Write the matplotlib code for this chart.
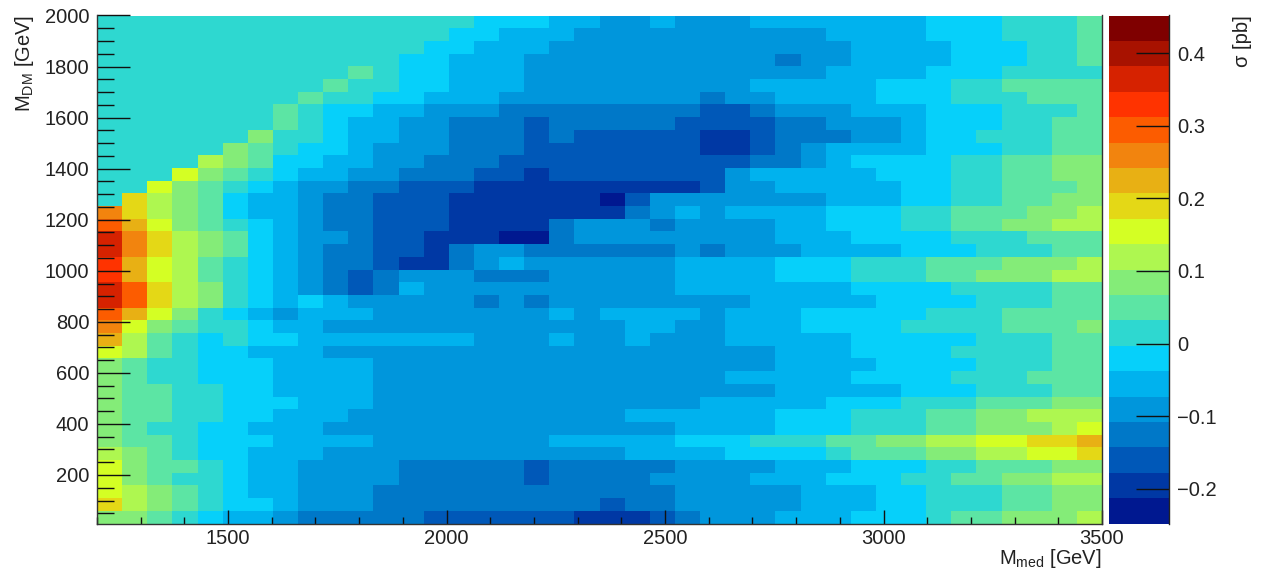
#!/usr/bin/env python3
# sigma map in the (M_med, M_DM) plane
import numpy as np
import matplotlib
matplotlib.use('Agg')
import matplotlib.pyplot as plt
from matplotlib.colors import ListedColormap, BoundaryNorm
from matplotlib.ticker import MultipleLocator

plt.rcParams['font.family'] = ['Liberation Sans', 'DejaVu Sans']
plt.rcParams['mathtext.fontset'] = 'custom'
plt.rcParams['mathtext.rm'] = 'Liberation Sans'
plt.rcParams['mathtext.default'] = 'rm'

# bin edges
mmed_edges = np.linspace(1200, 3500, 41)
mdm_edges = np.linspace(10, 2000, 41)

# z axis bands, one colour for each
band_edges = np.linspace(-0.248, 0.452, 21)
band_colors = ['#001890', '#0038a4', '#0058b8', '#0078c8', '#0096dc',
               '#00b2ee', '#06d0fa', '#2ed8d0', '#5ce5a4', '#84ec78',
               '#aef750', '#d4ff24', '#e4d816', '#e8b014', '#f2840e',
               '#fc5c00', '#ff3300', '#d62200', '#a81200', '#7f0000']

# band read off each cell, base 20 digit, top row (M_DM = 2000) first
# spaces only group equal neighbours
band_rows = [
    '777777777777777 666 55 44 5 444 5555555 666 777 8',
    '77777777777777 66 555 4444444444 5555 666 777 8',
    '7777777777777 66 555 444444444444 5555 666 77 8',
    '777777777777 66 555 4444444444 3 44 5555 666 77 8',
    '7777777777 8 7 66 555 444444444444 5555 666 7777',
    '777777777 8 77 66 555 444444444 55555 666 77 8888',
    '77777777 8 77 66 555 44444444 3 44 5555 666 777 888',
    '7777777 8 7 66 55 444 33333333 22 3 444 555 666 777 8',
    '7777777 8 7 6 55 44 333 2 33333 2222 33 444 5 666 77 88',
    '777777 9 77 6 55 44 333 2 3 22222 11 2 333 44 5 66 777 88',
    '77777 9 8 7 66 5 444 333 2222222 11 2 3 4 5555 666 77 88',
    '7777 a 9 8 66 55 44 333 2222222222 33 4 5 6666 77 88 99',
    '777 b 9 8 7 6 55 44 333 22 1 2222222 4 55555 666 77 88 99',
    '77 b 9 8 7 6 5 44 33 222 111111111 2 44 55555 66 77 888 9',
    '7 c a 9 8 6 55 4 33 222 111111 0 2 4444444 555 66 77 88 99',
    'e c a 9 8 6 55 4 33 222 1111111 3 4 5 4 5555 666 77 888 99 a',
    'f d b 9 8 7 6 5 4 33 222 1111 3 444 3 4444 55 666 77 88 99 aa',
    'h e c a 9 8 6 5 4 4 3 22 111 00 3 44444444 55 5 6666 777 888',
    'h e c a 9 8 6 5 4 33 22 1 3 44 333333 4 3 444 5555 666 777 88',
    'g d b a 8 7 6 5 4 33 2 11 3 4 5 444444 5555 666 777 888 999 a',
    'g d b a 8 7 6 5 4 3 2 3 444 333 44444 5555 666 777 88 999 aa',
    'h f c a 9 7 6 5 4 3 2 3 5 4444444444 5555555 6666 7777 88',
    'h f c a 9 7 6 5 6 5 44444 3 4 3 44444444 55555 6666 777 88',
    'f d b 9 7 6 5 4 555 4444444 5 4 5555 4 555 66666 777 8888',
    'e b 9 8 7 7 6 5 5 444444444444 55 44 555 6666 7777 888 9',
    'd a 8 7 6 7 6 6 5555555 444 5 44 5 444 55555 66666 777 88',
    'b a 8 7 6 6 555 444444444444444444 555 6666 7777 88',
    '9 8 7 7 6 6 6 5555 4444444444444444 5555 6666 777 88',
    '9 8 7 7 6 6 6 5555 44444444444444 55555 6666 777 888',
    '9 8 8 7 7 6 6 5555 4444444444444444 55555 666 777 88',
    '9 8 8 7 7 6 6 6 555 4444444444444 55555 666 777 888 99',
    '9 8 8 7 7 6 6 555 44444444444 555555 666 777 88 99 aaa',
    '9 8 7 7 6 6 555 44444444444444 5555 666 777 88 999 a b',
    '9 8 8 7 6 6 6 5555 4444444 55555 666 77 7 88 99 aa bb cc d',
    'a 9 8 7 6 6 555 444444444444 5555 6666 7 888 99 aa bb c',
    'b 9 8 8 7 6 55 4444 33333 2 33333 4444 555 666 77 888 99',
    'b 9 8 7 7 6 55 4444 33333 2 3333 4444 555 666 77 88 99 aa',
    'b a 9 8 7 6 5 5 444 333333333333 44444 555 66 777 88 99',
    'c a 9 8 7 6 6 5 444 333333333 2 33 44444 555 66 777 88 99',
    '9 9 8 7 6 5 5 4 33333 222222 111 2 3 444 555 666 7 88 999 a',
]

# turn each band into the sigma at its centre, bottom row first for the mesh
band_centres = 0.5 * (band_edges[:-1] + band_edges[1:])
sigma = []
for row in band_rows:
    cells = ''.join(row.split())
    sigma.append([band_centres[int(c, 20)] for c in cells])
sigma = np.array(sigma)[::-1]

fig = plt.figure(figsize=(12.61, 5.69), dpi=100)
W, H = 1261.0, 569.0
ax = fig.add_axes([97 / W, 1 - 523.5 / H, 1005 / W, 508 / H])
cax = fig.add_axes([1108.5 / W, 1 - 523.5 / H, 60.5 / W, 508 / H])

cmap = ListedColormap(band_colors)
norm = BoundaryNorm(band_edges, cmap.N)
mesh = ax.pcolormesh(mmed_edges, mdm_edges, sigma, cmap=cmap, norm=norm,
                     edgecolors='none', antialiased=False)

ax.set_xlim(1200, 3500)
ax.set_ylim(10, 2000)
ax.xaxis.set_major_locator(MultipleLocator(500))
ax.xaxis.set_minor_locator(MultipleLocator(100))
ax.yaxis.set_major_locator(MultipleLocator(200))
ax.yaxis.set_minor_locator(MultipleLocator(50))
ax.tick_params(axis='x', which='major', direction='in', length=10, width=1.0,
               labelsize=14.5, pad=4, color='#111111', labelcolor='#222222')
ax.tick_params(axis='x', which='minor', direction='in', length=5, width=1.0, color='#111111')
ax.tick_params(axis='y', which='major', direction='in', length=24, width=1.0,
               labelsize=14.5, pad=5.5, color='#111111', labelcolor='#222222')
ax.tick_params(axis='y', which='minor', direction='in', length=12, width=1.0, color='#111111')
ax.spines['top'].set_visible(False)
for side in ['left', 'right', 'bottom']:
    ax.spines[side].set_color('#333333')
    ax.spines[side].set_linewidth(1.0)

# axis titles sit at the far end of each axis
fig.text(1102 / W, 1 - 564 / H, r'$M_{med}$ [GeV]', ha='right', va='baseline',
         fontsize=14.5, color='#222222')
fig.text(25 / W, 1 - 15 / H, r'$M_{DM}$ [GeV]', ha='center', va='top', rotation=90,
         fontsize=14.5, color='#222222')
fig.text(1243 / W, 1 - 15 / H, '\u03c3 [pb]', ha='center', va='top', rotation=90,
         fontsize=14.5, color='#222222')

# colour scale
cbar = fig.colorbar(mesh, cax=cax, spacing='proportional',
                    ticks=[-0.2, -0.1, 0, 0.1, 0.2, 0.3, 0.4])
cbar.ax.set_yticklabels(['\u22120.2', '\u22120.1', '0', '0.1', '0.2', '0.3', '0.4'])
cbar.outline.set_visible(False)
cbar.ax.minorticks_off()
cbar.ax.tick_params(axis='y', direction='in', length=24, width=1.0, labelsize=14.5,
                    pad=6, color='#111111', labelcolor='#222222')
cbar.ax.spines['right'].set_visible(True)
cbar.ax.spines['right'].set_color('#222222')
cbar.ax.spines['right'].set_linewidth(1.0)

fig.savefig('out.png', dpi=100)
